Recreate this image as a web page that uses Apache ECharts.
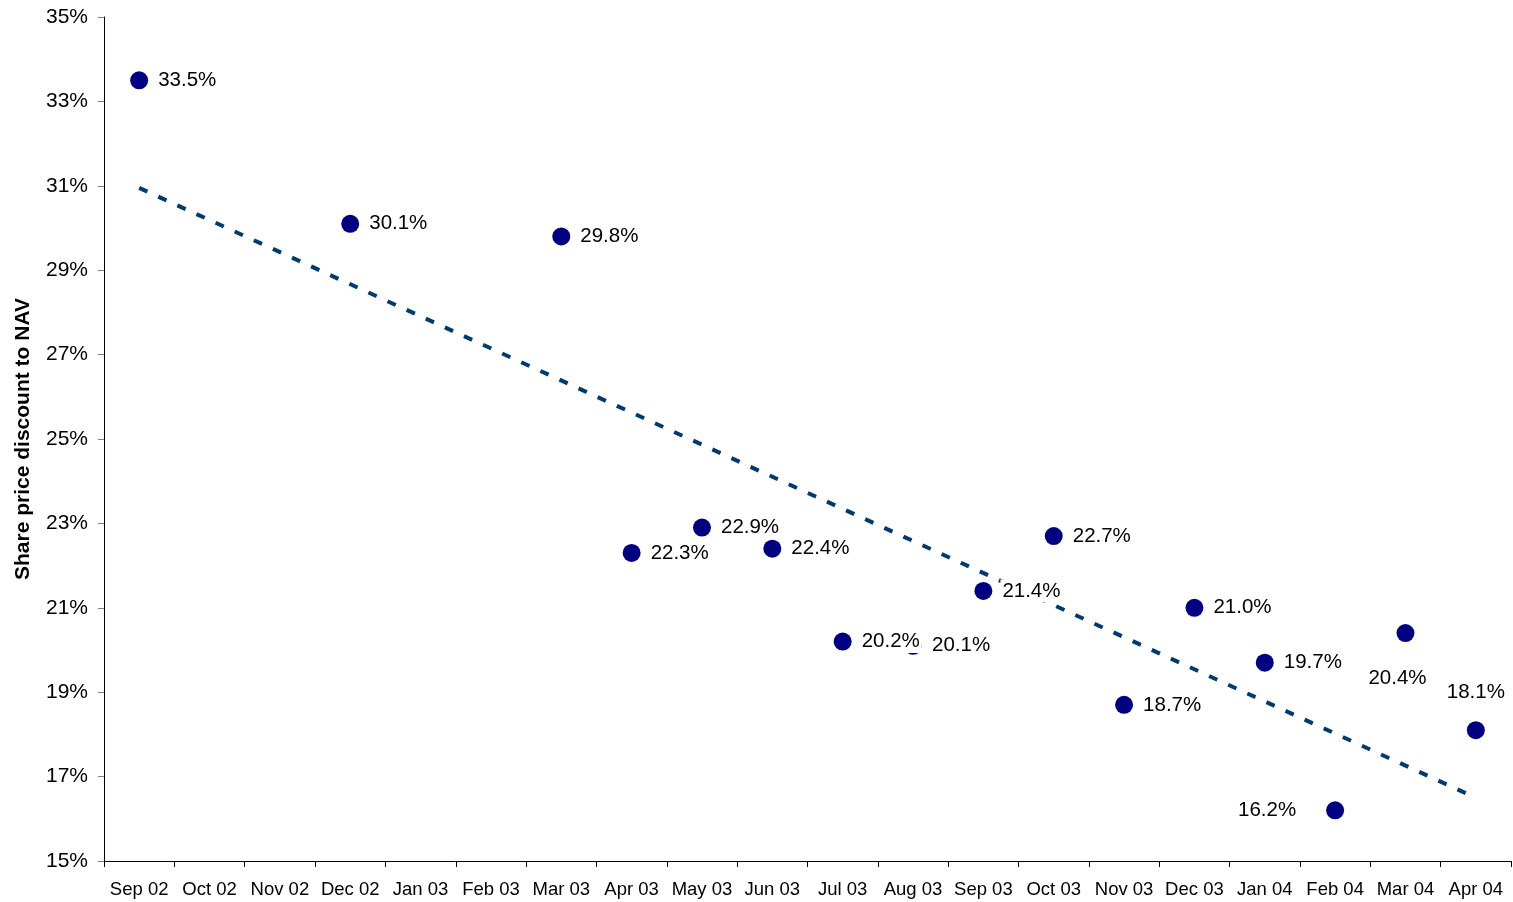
<!DOCTYPE html>
<html>
<head>
<meta charset="utf-8">
<script src="https://cdn.jsdelivr.net/npm/echarts@6/dist/echarts.min.js"></script>
<style>
html,body{margin:0;padding:0;background:#fff;}
#chart{width:1513px;height:902px;}
</style>
</head>
<body>
<div id="chart"></div>
<script>
var categories = ['Sep 02','Oct 02','Nov 02','Dec 02','Jan 03','Feb 03','Mar 03','Apr 03','May 03','Jun 03','Jul 03','Aug 03','Sep 03','Oct 03','Nov 03','Dec 03','Jan 04','Feb 04','Mar 04','Apr 04'];
var discount = [33.5, null, null, 30.1, null, null, 29.8, 22.3, 22.9, 22.4, 20.2, 20.1, 21.4, 22.7, 18.7, 21.0, 19.7, 16.2, 20.4, 18.1];
var trendEnds = [30.95, 16.5];
var yTicks = {min: 15, max: 35, step: 2};

var FONT = "'Liberation Sans', Arial, sans-serif";

// label placement overrides (style, not data)
var labelOverride = {
  'Feb 04': {position: 'left', distance: 28},
  'Mar 04': {position: 'bottom', distance: 25, offset: [-8, 0]},
  'Apr 04': {position: 'top', distance: 17}
};

var scatterData = [];
categories.forEach(function (c, i) {
  if (discount[i] == null) return;
  var item = {value: [c, discount[i]]};
  if (labelOverride[c]) item.label = labelOverride[c];
  scatterData.push(item);
});

var chart = echarts.init(document.getElementById('chart'));
chart.setOption({
  animation: false,
  backgroundColor: '#fff',
  grid: {left: 104, right: 2, top: 17, bottom: 41, containLabel: false, outerBoundsMode: 'none'},
  xAxis: {
    type: 'category',
    data: categories,
    boundaryGap: true,
    axisLine: {lineStyle: {color: '#000', width: 1}},
    axisTick: {show: true, interval: 0, length: 6, lineStyle: {color: '#000'}},
    axisLabel: {interval: 0, margin: 19, fontSize: 18.5, color: '#000', fontFamily: FONT},
    splitLine: {show: false}
  },
  yAxis: {
    type: 'value',
    min: yTicks.min, max: yTicks.max, interval: yTicks.step,
    name: 'Share price discount to NAV',
    nameLocation: 'middle',
    nameRotate: 90,
    nameGap: 70,
    nameTextStyle: {fontSize: 21, fontWeight: 'bold', color: '#000', fontFamily: FONT},
    axisLine: {show: true, lineStyle: {color: '#000', width: 1}},
    axisTick: {show: true, length: 6, lineStyle: {color: '#808080'}},
    axisLabel: {margin: 16, fontSize: 21, color: '#000', fontFamily: FONT, formatter: '{value}%'},
    splitLine: {show: false}
  },
  series: [
    {
      type: 'line',
      z: 1,
      data: [[categories[0], trendEnds[0]], [categories[categories.length - 1], trendEnds[1]]],
      symbol: 'none',
      lineStyle: {color: '#003a6e', width: 4, type: [9, 12], opacity: 1},
      silent: true
    },
    {
      type: 'scatter',
      z: 2,
      data: scatterData,
      symbol: 'circle',
      symbolSize: 18,
      itemStyle: {color: '#000080', opacity: 1},
      label: {
        show: true,
        position: 'right',
        distance: 8,
        fontSize: 20.5,
        color: '#000',
        opacity: 1,
        fontFamily: FONT,
        backgroundColor: '#fff',
        padding: [1, 2],
        formatter: function (p) { return p.value[1].toFixed(1) + '%'; }
      }
    }
  ]
});
</script>
</body>
</html>
